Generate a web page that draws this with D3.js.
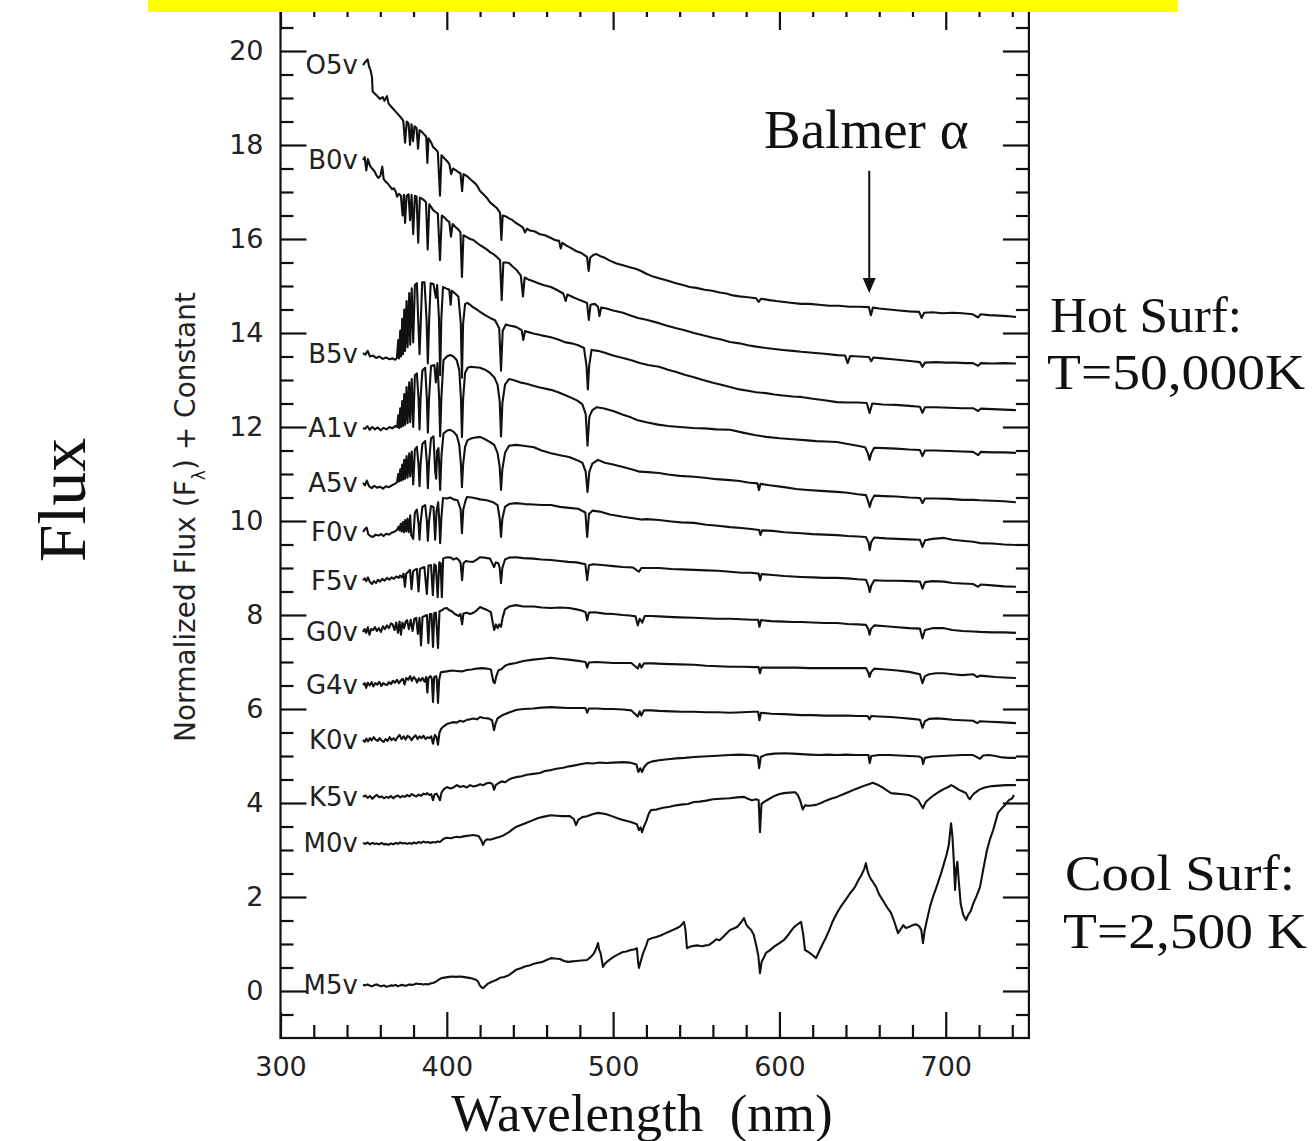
<!DOCTYPE html>
<html><head><meta charset="utf-8">
<script src="https://cdn.jsdelivr.net/npm/d3@7"></script>
<style>
html,body{margin:0;padding:0;background:#fff;}
svg{display:block;}
</style></head><body>
<svg id="chart" width="1315" height="1141"></svg>
<script>
// ---------------- DATA ----------------
const spectralTypes = ["O5v","B0v","B5v","A1v","A5v","F0v","F5v","G0v","G4v","K0v","K5v","M0v","M5v"];

const O5v = [[349.6,19.70],[350.8,19.76],[352.4,19.82],[353.2,19.68],[354.2,19.58],[355.0,19.45],[355.4,19.14],[356.5,19.10],[358.0,19.05],[359.8,18.98],[361.5,19.02],[362.5,18.94],[364.0,19.04],[365.0,18.88],[366.5,18.82],[368.0,18.76],[369.5,18.70],[371.0,18.64],[372.5,18.58],[373.8,18.52],[374.9,18.05],[375.9,18.50],[377.0,18.46],[377.9,18.0],[378.8,18.44],[379.7,18.08],[380.6,18.40],[381.8,18.36],[382.7,17.92],[383.6,18.32],[385.0,18.28],[386.5,18.22],[387.6,18.18],[388.3,17.62],[389.0,18.14],[390.5,18.06],[391.7,17.96],[393.5,17.90],[394.6,17.85],[395.9,16.92],[396.8,17.78],[398.5,17.72],[400.1,17.66],[401.5,17.60],[402.6,17.38],[403.7,17.50],[405.5,17.46],[407.0,17.42],[408.2,17.40],[409.2,17.02],[410.0,17.38],[412.0,17.34],[414.5,17.26],[416.5,17.20],[418.2,17.14],[420.0,17.02],[422.0,16.95],[424.0,16.88],[426.0,16.78],[428.0,16.72],[430.0,16.66],[432.0,16.56],[432.8,15.98],[433.6,16.50],[435.5,16.48],[437.4,16.44],[439.5,16.40],[441.6,16.34],[443.5,16.30],[445.8,16.24],[447.0,16.14],[448.2,16.22],[450.0,16.18],[453.0,16.16],[456.0,16.10],[459.0,16.08],[462.6,16.02],[465.0,15.98],[467.5,15.96],[468.5,15.80],[469.5,15.92],[472.0,15.86],[475.0,15.80],[478.0,15.74],[481.0,15.70],[484.3,15.62],[485.3,15.32],[486.2,15.60],[488.0,15.66],[490.0,15.68],[492.0,15.64],[495.0,15.60],[498.0,15.54],[502.0,15.48],[506.0,15.44],[510.0,15.40],[514.0,15.36],[516.8,15.32],[520.0,15.26],[524.0,15.20],[528.0,15.16],[532.0,15.12],[537.8,15.06],[542.0,15.02],[546.0,14.98],[550.0,14.96],[555.0,14.92],[559.5,14.90],[564.0,14.86],[568.0,14.84],[572.0,14.80],[576.0,14.78],[581.0,14.76],[586.0,14.74],[587.5,14.66],[589.0,14.73],[594.0,14.70],[598.0,14.68],[602.8,14.66],[608.0,14.64],[613.0,14.62],[618.0,14.62],[623.8,14.60],[630.0,14.58],[636.0,14.58],[642.0,14.56],[648.0,14.56],[653.8,14.55],[655.0,14.38],[656.2,14.54],[660.0,14.52],[666.0,14.50],[672.0,14.48],[678.0,14.46],[684.0,14.45],[685.5,14.32],[687.0,14.43],[692.0,14.44],[698.0,14.42],[704.0,14.43],[710.0,14.42],[716.0,14.40],[719.5,14.33],[721.0,14.40],[726.0,14.38],[732.0,14.37],[737.0,14.36],[742.2,14.34]];

const B0v = [[349.6,17.68],[350.6,17.74],[351.6,17.46],[352.5,17.70],[353.8,17.56],[355.0,17.50],[356.5,17.44],[357.6,17.36],[358.8,17.30],[360.0,17.34],[361.2,17.54],[362.0,17.28],[363.2,17.22],[364.5,17.18],[365.8,17.12],[367.0,17.06],[368.2,17.08],[369.4,17.00],[370.1,16.90],[371.2,16.96],[372.4,16.92],[373.4,16.50],[374.2,16.94],[374.9,16.34],[375.8,16.92],[377.0,16.95],[377.9,16.40],[378.8,16.94],[379.8,16.10],[380.8,16.92],[381.8,16.90],[382.8,15.92],[383.8,16.88],[385.0,16.86],[386.5,16.82],[387.5,16.78],[388.5,15.78],[389.5,16.74],[390.6,16.68],[391.7,16.62],[393.0,16.58],[394.6,16.54],[395.9,15.55],[397.0,16.50],[398.5,16.46],[400.1,16.40],[401.5,16.36],[402.5,16.05],[403.5,16.32],[405.0,16.26],[407.0,16.20],[408.2,16.14],[409.1,15.19],[410.0,16.08],[412.1,16.04],[414.0,16.00],[416.0,15.98],[418.0,15.92],[420.0,15.87],[421.8,15.83],[424.0,15.78],[426.0,15.72],[428.0,15.68],[430.0,15.62],[432.0,15.55],[433.0,14.70],[434.0,15.50],[435.5,15.50],[437.4,15.49],[440.0,15.40],[442.0,15.34],[444.5,15.22],[445.8,14.78],[446.8,15.18],[449.0,15.14],[452.0,15.10],[455.0,15.06],[458.0,15.02],[462.6,14.98],[466.0,14.92],[470.0,14.84],[471.5,14.68],[472.5,14.82],[476.0,14.76],[480.0,14.70],[484.3,14.64],[485.4,14.28],[486.4,14.60],[489.0,14.62],[490.9,14.56],[491.8,14.36],[492.8,14.54],[496.0,14.52],[500.0,14.48],[505.9,14.43],[510.0,14.38],[515.0,14.32],[520.0,14.28],[527.6,14.21],[532.0,14.16],[538.0,14.10],[543.0,14.06],[548.6,14.00],[554.0,13.95],[560.0,13.90],[565.0,13.86],[570.3,13.81],[576.0,13.78],[581.0,13.74],[586.0,13.71],[591.9,13.68],[597.0,13.66],[602.0,13.64],[608.0,13.62],[613.0,13.60],[620.0,13.58],[627.0,13.56],[634.6,13.53],[639.5,13.52],[641.0,13.36],[642.5,13.51],[648.0,13.50],[653.8,13.49],[655.2,13.40],[656.5,13.48],[662.0,13.46],[668.0,13.44],[674.0,13.42],[680.0,13.40],[684.5,13.38],[686.0,13.28],[687.5,13.37],[694.0,13.38],[700.0,13.37],[706.0,13.37],[712.0,13.36],[716.4,13.36],[719.5,13.30],[721.0,13.36],[728.0,13.35],[735.0,13.36],[742.2,13.35]];

const B5v = [[349.6,13.57],[351.0,13.54],[352.4,13.62],[353.8,13.50],[355.6,13.52],[357.5,13.47],[359.5,13.50],[361.5,13.45],[363.5,13.48],[365.5,13.44],[367.5,13.46],[369.0,13.43],[370.0,13.47],[370.8,13.85],[371.3,13.46],[372.0,14.05],[372.5,13.50],[373.2,14.30],[373.7,13.55],[374.4,14.50],[374.9,13.62],[375.8,14.68],[376.4,13.70],[377.4,14.85],[378.0,13.75],[378.9,14.95],[379.8,13.80],[380.8,15.02],[382.0,15.06],[382.9,14.20],[383.6,13.55],[384.3,14.20],[385.2,15.08],[386.6,15.08],[387.8,14.30],[388.6,13.35],[389.4,14.30],[390.3,15.06],[392.0,15.04],[393.4,14.75],[394.2,15.02],[395.3,14.30],[396.0,13.10],[396.7,14.30],[397.7,14.98],[399.5,14.95],[401.5,14.92],[402.3,14.60],[403.0,14.90],[405.0,14.84],[407.0,14.77],[408.4,14.20],[409.1,13.05],[409.8,14.20],[411.0,14.62],[412.5,14.64],[414.0,14.60],[415.7,14.55],[418.0,14.50],[420.0,14.45],[423.0,14.38],[426.0,14.32],[429.0,14.27],[431.5,14.10],[432.6,13.20],[433.6,14.05],[435.5,14.18],[437.5,14.16],[441.6,14.13],[445.0,14.06],[446.0,13.85],[447.0,14.04],[452.0,13.99],[457.0,13.95],[462.6,13.91],[467.0,13.86],[471.5,13.80],[475.0,13.78],[479.0,13.74],[482.5,13.68],[484.0,13.30],[484.8,12.80],[485.6,13.30],[487.0,13.64],[490.9,13.62],[495.0,13.58],[500.0,13.52],[505.9,13.47],[511.0,13.42],[516.0,13.36],[521.0,13.32],[527.6,13.28],[533.0,13.22],[538.0,13.17],[543.0,13.11],[548.6,13.06],[554.0,13.00],[560.0,12.94],[565.0,12.90],[570.3,12.85],[576.0,12.80],[581.0,12.77],[586.0,12.74],[591.9,12.72],[597.0,12.69],[602.0,12.67],[608.0,12.65],[613.0,12.64],[620.0,12.60],[627.0,12.57],[634.6,12.53],[641.0,12.52],[647.0,12.52],[652.5,12.51],[654.2,12.30],[655.8,12.50],[662.0,12.48],[670.0,12.47],[678.0,12.45],[684.5,12.43],[686.0,12.30],[687.5,12.42],[694.0,12.42],[702.0,12.41],[710.0,12.40],[716.4,12.40],[719.5,12.34],[721.0,12.39],[728.0,12.38],[735.0,12.37],[742.2,12.36]];

const A1v = [[349.6,11.98],[350.8,11.96],[352.2,12.02],[353.6,11.94],[355.2,12.00],[356.8,11.95],[358.5,11.99],[360.2,11.93],[362.0,11.98],[363.8,11.95],[365.5,12.00],[367.2,11.97],[369.0,12.02],[370.2,12.00],[370.8,12.25],[371.3,11.98],[372.0,12.40],[372.5,12.00],[373.2,12.55],[373.7,12.02],[374.4,12.70],[374.9,12.05],[375.8,12.85],[376.4,12.08],[377.4,12.95],[378.0,12.10],[378.9,13.02],[379.8,12.00],[380.8,13.10],[382.0,13.14],[383.0,12.60],[383.6,11.95],[384.2,12.60],[385.3,13.20],[387.0,13.26],[388.0,12.60],[388.6,11.88],[389.3,12.60],[390.5,13.30],[392.5,13.32],[393.4,12.95],[394.4,13.36],[395.4,12.60],[396.0,11.80],[396.7,12.60],[398.0,13.42],[400.0,13.50],[402.0,13.53],[404.0,13.50],[406.0,13.42],[407.5,13.20],[408.5,12.60],[409.1,11.79],[409.8,12.60],[411.0,13.15],[412.5,13.26],[414.5,13.28],[417.0,13.27],[420.0,13.26],[423.0,13.22],[426.0,13.15],[428.5,13.06],[430.5,12.90],[431.8,12.55],[432.6,11.80],[433.4,12.50],[435.0,12.90],[437.4,13.02],[440.0,13.00],[444.0,12.95],[448.0,12.92],[452.0,12.88],[456.0,12.84],[462.6,12.79],[467.0,12.74],[471.0,12.68],[475.0,12.62],[478.5,12.56],[481.5,12.48],[483.5,12.28],[484.6,11.60],[485.7,12.22],[487.5,12.36],[490.0,12.42],[494.0,12.40],[500.0,12.34],[506.0,12.26],[511.0,12.20],[514.3,12.15],[520.0,12.10],[527.0,12.05],[533.0,12.02],[540.0,12.00],[548.0,11.98],[555.0,11.97],[562.0,11.95],[570.3,11.94],[578.0,11.88],[585.0,11.83],[592.0,11.79],[600.0,11.76],[608.0,11.74],[615.0,11.72],[622.0,11.70],[628.0,11.69],[634.6,11.68],[641.0,11.64],[647.0,11.60],[651.5,11.57],[653.2,11.44],[654.2,11.30],[655.2,11.44],[657.0,11.56],[663.0,11.55],[670.0,11.54],[678.0,11.52],[684.5,11.51],[686.0,11.38],[687.5,11.50],[694.0,11.50],[702.0,11.49],[710.0,11.48],[716.4,11.47],[719.5,11.40],[721.0,11.47],[728.0,11.46],[735.0,11.46],[742.2,11.45]];

const A5v = [[349.6,10.81],[350.8,10.76],[351.9,10.86],[353.2,10.74],[354.8,10.70],[356.4,10.75],[358.0,10.71],[359.8,10.73],[361.6,10.69],[363.4,10.74],[365.2,10.72],[367.0,10.76],[368.8,10.79],[370.1,10.83],[370.8,11.00],[371.3,10.84],[372.0,11.10],[372.5,10.86],[373.2,11.20],[373.7,10.88],[374.4,11.30],[374.9,10.90],[375.8,11.38],[376.4,10.92],[377.4,11.44],[378.0,10.95],[378.9,11.48],[379.8,10.78],[380.8,11.52],[382.0,11.58],[383.0,11.20],[383.6,10.74],[384.2,11.20],[385.3,11.64],[387.0,11.70],[388.0,11.25],[388.6,10.70],[389.3,11.25],[390.5,11.76],[392.0,11.80],[393.0,11.05],[393.6,10.90],[394.2,11.50],[395.0,11.55],[396.0,10.66],[396.8,11.40],[398.0,11.86],[400.0,11.92],[402.0,11.94],[404.0,11.90],[406.0,11.82],[407.5,11.62],[408.5,11.20],[409.1,10.72],[409.8,11.20],[411.0,11.58],[412.5,11.72],[415.0,11.76],[418.0,11.78],[420.0,11.79],[423.0,11.74],[426.0,11.68],[428.5,11.62],[430.5,11.45],[431.8,11.15],[432.6,10.66],[433.4,11.10],[435.0,11.45],[437.4,11.60],[441.6,11.62],[446.0,11.60],[452.4,11.57],[457.0,11.50],[462.6,11.44],[468.0,11.40],[473.5,11.36],[478.0,11.30],[481.5,11.24],[483.5,11.05],[484.6,10.62],[485.7,11.05],[487.5,11.22],[490.9,11.30],[495.0,11.24],[500.0,11.20],[505.9,11.15],[511.0,11.10],[516.0,11.05],[521.0,11.04],[527.6,11.02],[533.0,10.99],[540.0,10.96],[548.6,10.94],[555.0,10.92],[562.0,10.89],[570.3,10.87],[576.0,10.85],[581.0,10.82],[586.8,10.80],[587.7,10.66],[588.6,10.79],[594.0,10.76],[602.8,10.72],[610.0,10.68],[617.0,10.66],[625.0,10.64],[634.6,10.62],[641.0,10.60],[647.0,10.57],[652.0,10.55],[653.5,10.40],[654.3,10.30],[655.2,10.42],[657.0,10.54],[663.0,10.53],[670.0,10.52],[678.0,10.50],[684.5,10.49],[686.0,10.38],[687.5,10.48],[694.0,10.48],[702.0,10.47],[710.0,10.45],[716.4,10.45],[720.6,10.44],[728.0,10.43],[735.0,10.42],[742.2,10.40]];

const F0v = [[349.6,9.77],[350.6,9.82],[351.8,9.86],[352.8,9.72],[354.0,9.68],[355.6,9.66],[357.2,9.71],[358.8,9.69],[360.4,9.72],[362.0,9.68],[363.6,9.73],[365.2,9.71],[366.8,9.75],[368.4,9.77],[370.1,9.81],[371.0,9.88],[371.6,9.80],[372.3,9.94],[372.8,9.78],[373.6,9.98],[374.2,9.76],[375.0,10.02],[375.6,9.78],[376.4,10.05],[377.1,9.76],[378.0,10.12],[378.6,9.70],[379.8,9.62],[380.8,10.18],[382.0,10.24],[383.0,9.95],[383.6,9.60],[384.2,9.95],[385.3,10.30],[387.0,10.34],[388.0,10.00],[388.6,9.58],[389.3,10.00],[390.5,10.32],[392.0,10.30],[393.0,9.60],[393.8,10.20],[394.8,10.40],[395.4,10.05],[396.0,9.53],[396.7,10.05],[397.7,10.49],[400.0,10.48],[402.0,10.50],[404.0,10.46],[406.5,10.44],[408.3,10.25],[409.1,9.74],[409.9,10.25],[411.5,10.46],[412.1,10.51],[415.0,10.50],[418.0,10.48],[420.0,10.46],[424.0,10.44],[427.8,10.40],[430.5,10.34],[431.8,10.05],[432.6,9.66],[433.4,10.05],[435.0,10.30],[437.4,10.36],[441.6,10.38],[447.0,10.36],[452.0,10.35],[457.0,10.34],[462.6,10.34],[468.0,10.30],[473.5,10.28],[479.0,10.26],[483.3,10.18],[484.4,9.66],[485.5,10.15],[487.5,10.22],[492.0,10.20],[498.0,10.14],[505.9,10.09],[512.0,10.06],[516.8,10.03],[520.0,10.04],[527.6,10.02],[535.0,9.99],[541.0,9.97],[548.6,9.96],[556.0,9.92],[563.0,9.90],[570.3,9.87],[577.0,9.85],[583.0,9.83],[587.8,9.81],[588.6,9.70],[589.5,9.80],[596.0,9.79],[602.8,9.76],[608.0,9.75],[613.0,9.74],[620.0,9.72],[627.0,9.71],[634.6,9.70],[641.0,9.68],[647.0,9.67],[652.0,9.66],[653.5,9.55],[654.3,9.38],[655.2,9.55],[657.0,9.65],[664.0,9.63],[671.0,9.62],[678.0,9.61],[684.5,9.60],[686.0,9.45],[687.5,9.59],[692.0,9.62],[699.0,9.64],[704.0,9.60],[710.0,9.58],[716.4,9.56],[720.6,9.53],[728.0,9.52],[735.0,9.50],[742.2,9.49]];

const F5v = [[349.6,8.74],[350.6,8.78],[351.6,8.72],[352.6,8.80],[353.8,8.70],[355.0,8.66],[356.2,8.72],[357.4,8.68],[358.6,8.75],[359.8,8.71],[361.2,8.77],[362.6,8.73],[364.0,8.79],[365.4,8.75],[366.8,8.80],[368.2,8.77],[369.6,8.82],[371.0,8.79],[371.9,8.84],[373.0,8.80],[374.0,8.88],[374.8,8.60],[375.6,8.88],[376.8,8.92],[377.9,8.96],[378.8,8.55],[379.7,8.92],[380.6,8.96],[382.0,8.98],[383.0,8.50],[383.9,8.98],[385.0,9.00],[386.5,9.02],[388.0,8.45],[389.0,9.05],[390.5,9.06],[391.6,8.42],[392.5,9.08],[393.4,9.05],[394.5,8.38],[395.5,9.12],[396.3,9.10],[397.0,8.38],[397.8,9.20],[399.0,9.22],[400.5,9.23],[402.5,9.22],[404.0,9.18],[405.8,9.21],[407.5,9.16],[408.3,9.10],[409.2,8.74],[410.0,9.10],[411.5,9.15],[413.0,9.14],[415.7,9.13],[418.0,9.18],[420.0,9.23],[423.0,9.22],[426.0,9.20],[428.4,9.02],[429.5,9.12],[431.0,9.10],[431.8,9.00],[432.6,8.68],[433.4,9.00],[435.0,9.18],[437.4,9.22],[441.6,9.23],[446.0,9.21],[452.0,9.20],[457.0,9.18],[462.6,9.17],[468.0,9.15],[473.0,9.13],[478.0,9.12],[483.3,9.08],[484.4,8.74],[485.5,9.06],[488.0,9.08],[495.0,9.06],[500.0,9.04],[505.9,9.02],[512.0,9.01],[515.5,8.92],[517.0,9.00],[522.0,9.00],[527.6,9.00],[535.0,8.98],[541.0,8.97],[548.6,8.96],[556.0,8.95],[563.0,8.94],[570.3,8.92],[577.0,8.90],[583.0,8.90],[587.5,8.88],[588.4,8.74],[589.3,8.87],[596.0,8.85],[602.8,8.83],[608.0,8.82],[613.0,8.81],[620.0,8.80],[627.0,8.79],[634.6,8.79],[641.0,8.78],[647.0,8.76],[652.0,8.75],[653.5,8.62],[654.3,8.49],[655.2,8.62],[657.0,8.74],[664.0,8.73],[671.0,8.73],[678.0,8.72],[684.5,8.71],[686.0,8.56],[687.5,8.70],[692.0,8.72],[699.0,8.71],[704.0,8.68],[710.0,8.67],[716.4,8.66],[719.5,8.60],[721.0,8.65],[728.0,8.63],[735.0,8.61],[742.2,8.60]];

const G0v = [[349.6,7.64],[350.6,7.70],[351.5,7.62],[352.5,7.74],[353.5,7.58],[354.5,7.70],[355.6,7.68],[356.8,7.74],[358.0,7.66],[359.2,7.72],[360.4,7.64],[361.6,7.76],[362.8,7.70],[364.0,7.78],[365.2,7.72],[366.4,7.82],[367.4,7.80],[368.6,7.68],[369.6,7.84],[370.6,7.62],[371.6,7.86],[372.4,7.58],[373.3,7.84],[374.3,7.72],[375.3,7.86],[376.1,7.89],[377.2,7.70],[378.3,7.90],[379.4,7.66],[380.5,7.92],[381.6,7.94],[382.6,7.60],[383.6,7.94],[384.5,7.35],[385.4,7.96],[386.8,7.98],[388.0,8.00],[388.9,7.40],[389.8,8.02],[390.8,8.02],[391.7,7.32],[392.5,8.04],[393.4,8.05],[394.7,7.30],[395.6,8.08],[397.0,8.10],[398.5,8.14],[400.0,8.15],[401.5,8.10],[403.0,8.08],[404.5,8.03],[406.0,8.00],[407.2,7.98],[408.2,8.02],[409.2,7.80],[410.0,8.03],[412.0,8.05],[414.0,8.02],[415.7,8.04],[418.0,8.10],[420.0,8.17],[422.0,8.14],[424.5,8.10],[426.5,8.06],[427.8,7.80],[428.5,7.68],[429.5,7.80],[430.6,7.72],[431.5,7.80],[432.6,7.75],[433.6,7.95],[435.0,8.12],[437.5,8.18],[441.6,8.21],[446.0,8.18],[452.4,8.18],[457.0,8.16],[462.6,8.15],[468.0,8.16],[473.5,8.15],[478.0,8.12],[481.5,8.09],[483.4,8.06],[484.4,7.89],[485.4,8.05],[489.0,8.06],[495.0,8.03],[500.0,8.02],[505.9,8.00],[510.0,7.99],[513.5,7.97],[514.8,7.78],[516.0,7.92],[517.5,7.84],[519.0,7.98],[523.0,7.98],[527.6,7.97],[533.0,7.96],[540.0,7.95],[548.6,7.94],[555.0,7.93],[562.0,7.92],[570.3,7.92],[577.0,7.91],[583.0,7.90],[587.2,7.90],[588.0,7.75],[588.9,7.89],[595.0,7.87],[602.8,7.86],[608.0,7.85],[613.0,7.85],[620.0,7.84],[627.0,7.83],[634.6,7.83],[641.0,7.81],[647.0,7.80],[652.0,7.79],[653.4,7.70],[654.2,7.58],[655.0,7.70],[657.0,7.78],[664.0,7.76],[671.0,7.74],[678.0,7.72],[684.5,7.71],[686.0,7.50],[687.5,7.68],[692.0,7.72],[699.0,7.72],[704.0,7.68],[710.0,7.66],[716.4,7.65],[720.6,7.64],[728.0,7.63],[735.0,7.63],[742.2,7.62]];

const G4v = [[349.6,6.51],[350.6,6.55],[351.5,6.45],[352.5,6.56],[353.6,6.50],[354.8,6.57],[355.8,6.48],[357.0,6.55],[358.2,6.52],[359.4,6.58],[360.6,6.49],[361.8,6.55],[363.0,6.52],[364.0,6.51],[365.2,6.57],[366.4,6.53],[367.6,6.60],[368.8,6.56],[370.0,6.62],[371.2,6.55],[372.4,6.61],[373.6,6.64],[374.6,6.52],[375.6,6.66],[376.8,6.62],[377.9,6.70],[379.0,6.60],[380.1,6.68],[381.2,6.64],[382.1,6.56],[383.2,6.65],[384.2,6.60],[385.4,6.66],[386.6,6.58],[387.6,6.68],[388.3,6.35],[389.0,6.66],[390.2,6.70],[391.0,6.64],[391.7,6.15],[392.4,6.68],[393.6,6.70],[394.0,6.62],[394.7,6.13],[395.4,6.62],[396.4,6.78],[397.7,6.79],[400.0,6.80],[403.0,6.82],[406.0,6.81],[409.0,6.80],[412.0,6.83],[415.0,6.84],[418.0,6.86],[421.0,6.87],[424.0,6.86],[426.5,6.84],[428.0,6.58],[428.8,6.55],[429.8,6.70],[431.0,6.82],[433.0,6.85],[435.0,6.92],[437.0,6.95],[441.6,6.98],[446.0,7.02],[452.0,7.05],[457.0,7.07],[462.6,7.09],[468.0,7.07],[473.0,7.05],[478.0,7.03],[483.4,7.00],[484.4,6.88],[485.4,6.99],[490.0,7.00],[495.0,6.99],[500.0,6.98],[505.9,6.98],[511.0,6.98],[514.8,6.86],[516.0,6.96],[517.0,6.88],[518.5,6.97],[523.0,6.97],[530.0,6.96],[540.0,6.95],[548.6,6.94],[556.0,6.92],[563.0,6.91],[570.3,6.90],[578.0,6.90],[585.0,6.89],[587.5,6.89],[588.3,6.76],[589.2,6.88],[595.0,6.88],[602.8,6.88],[610.0,6.88],[618.0,6.87],[626.0,6.87],[634.6,6.87],[641.0,6.87],[647.0,6.87],[652.0,6.87],[653.4,6.78],[654.2,6.68],[655.0,6.78],[657.0,6.86],[664.0,6.84],[671.0,6.82],[678.0,6.79],[684.5,6.74],[686.0,6.55],[687.5,6.70],[690.0,6.74],[694.0,6.76],[699.0,6.76],[704.0,6.74],[710.0,6.72],[716.4,6.74],[719.0,6.68],[720.6,6.71],[724.0,6.70],[730.0,6.68],[735.0,6.67],[742.2,6.66]];

const K0v = [[349.6,5.34],[350.6,5.30],[351.6,5.37],[352.6,5.31],[353.8,5.38],[354.8,5.33],[356.0,5.40],[357.2,5.35],[358.4,5.32],[359.6,5.38],[360.8,5.33],[362.0,5.30],[363.2,5.36],[364.4,5.32],[365.6,5.40],[366.8,5.34],[368.0,5.38],[369.2,5.33],[370.4,5.40],[371.6,5.45],[372.8,5.36],[374.0,5.42],[375.2,5.35],[376.4,5.43],[377.6,5.40],[378.8,5.34],[380.0,5.40],[381.2,5.44],[382.4,5.36],[383.6,5.42],[384.8,5.38],[386.0,5.43],[387.2,5.36],[388.4,5.40],[389.6,5.38],[390.6,5.42],[391.7,5.26],[392.8,5.45],[393.8,5.40],[394.7,5.24],[395.6,5.50],[396.6,5.58],[397.7,5.62],[400.0,5.68],[402.0,5.70],[403.7,5.72],[406.0,5.71],[408.0,5.75],[410.0,5.73],[412.1,5.77],[414.0,5.78],[416.0,5.80],[418.2,5.78],[420.0,5.83],[422.0,5.81],[425.0,5.80],[427.2,5.76],[428.4,5.55],[429.4,5.70],[430.5,5.80],[433.0,5.86],[437.0,5.92],[441.6,5.98],[446.0,6.00],[452.0,6.01],[457.0,6.03],[462.6,6.04],[468.0,6.03],[473.0,6.02],[478.0,6.02],[483.4,6.02],[484.4,5.92],[485.4,6.01],[490.0,6.01],[495.0,6.00],[500.0,6.00],[505.9,5.99],[511.0,5.97],[514.8,5.84],[516.0,5.95],[517.0,5.86],[518.5,5.97],[523.0,5.97],[527.6,5.96],[535.0,5.95],[541.0,5.94],[548.6,5.94],[556.0,5.93],[563.0,5.93],[570.3,5.92],[578.0,5.93],[584.0,5.94],[587.2,5.94],[588.0,5.76],[588.9,5.92],[595.0,5.90],[602.8,5.89],[608.0,5.88],[613.0,5.87],[620.0,5.87],[627.0,5.86],[634.6,5.86],[641.0,5.86],[647.0,5.85],[653.0,5.85],[654.2,5.78],[655.2,5.85],[660.0,5.84],[667.0,5.83],[674.0,5.81],[680.0,5.79],[684.5,5.77],[686.0,5.60],[687.5,5.74],[690.0,5.79],[694.8,5.80],[699.0,5.79],[704.0,5.77],[710.0,5.76],[716.4,5.75],[719.0,5.70],[720.6,5.74],[726.0,5.73],[732.0,5.72],[737.0,5.71],[742.2,5.70]];

const K5v = [[349.6,4.13],[351.0,4.16],[352.4,4.11],[353.8,4.15],[355.2,4.09],[356.6,4.14],[358.0,4.17],[359.4,4.12],[360.8,4.14],[362.2,4.10],[363.6,4.13],[365.0,4.11],[366.4,4.15],[367.8,4.10],[369.2,4.14],[370.6,4.16],[372.0,4.12],[373.4,4.15],[374.8,4.13],[376.1,4.17],[377.5,4.14],[378.9,4.19],[380.3,4.16],[381.7,4.14],[383.1,4.18],[384.5,4.15],[385.9,4.20],[387.3,4.18],[388.1,4.21],[389.5,4.17],[390.6,4.19],[391.7,4.06],[392.6,4.18],[393.8,4.20],[394.8,4.14],[395.9,4.06],[396.8,4.22],[398.4,4.30],[400.1,4.34],[402.0,4.31],[404.0,4.33],[406.1,4.38],[408.0,4.34],[410.0,4.36],[412.0,4.33],[414.0,4.38],[416.0,4.35],[418.2,4.37],[420.0,4.40],[422.0,4.38],[424.0,4.42],[426.0,4.43],[427.5,4.40],[428.4,4.28],[429.4,4.38],[431.0,4.42],[433.0,4.46],[435.0,4.44],[437.4,4.50],[439.5,4.53],[441.6,4.55],[445.0,4.57],[448.0,4.60],[452.0,4.62],[456.0,4.64],[459.0,4.68],[462.6,4.70],[466.0,4.73],[470.0,4.75],[473.5,4.78],[477.0,4.80],[481.0,4.83],[484.3,4.85],[488.0,4.84],[492.0,4.86],[496.0,4.85],[500.0,4.86],[505.9,4.87],[510.0,4.86],[514.0,4.82],[515.2,4.66],[516.3,4.74],[517.4,4.66],[518.6,4.76],[520.5,4.84],[523.0,4.88],[527.6,4.91],[533.0,4.93],[538.0,4.95],[543.0,4.96],[548.6,4.98],[554.0,4.99],[560.0,5.00],[565.0,5.01],[570.3,5.02],[576.0,5.03],[581.0,5.02],[585.0,5.01],[587.0,4.99],[587.8,4.74],[588.8,4.98],[592.0,5.03],[597.0,5.05],[602.8,5.06],[608.0,5.05],[613.0,5.04],[618.0,5.03],[624.0,5.02],[629.0,5.03],[634.6,5.02],[640.0,5.03],[646.0,5.02],[651.0,5.02],[653.5,5.02],[654.3,4.85],[655.2,5.00],[660.0,5.02],[666.0,5.02],[672.0,5.01],[678.0,5.00],[684.0,4.99],[685.6,4.96],[686.4,4.83],[687.4,4.96],[692.0,4.99],[698.0,5.00],[704.0,5.01],[710.0,5.02],[716.4,5.02],[719.0,4.97],[720.6,4.94],[722.5,5.01],[726.0,5.02],[730.0,5.00],[734.0,4.97],[738.0,4.96],[742.2,4.96]];

const M0v = [[349.6,3.15],[351.0,3.13],[352.4,3.16],[353.8,3.12],[355.2,3.15],[356.6,3.13],[358.0,3.14],[359.4,3.12],[360.8,3.15],[362.2,3.12],[363.6,3.13],[365.0,3.11],[366.4,3.14],[367.8,3.12],[369.2,3.15],[370.6,3.13],[372.0,3.16],[373.4,3.14],[374.8,3.15],[376.1,3.13],[377.5,3.15],[378.9,3.13],[380.3,3.16],[381.7,3.14],[383.1,3.17],[384.5,3.15],[385.9,3.18],[387.3,3.16],[388.7,3.17],[390.1,3.15],[391.5,3.17],[393.0,3.16],[394.4,3.18],[395.9,3.17],[397.4,3.22],[398.8,3.25],[400.1,3.26],[402.5,3.25],[404.5,3.27],[406.1,3.28],[408.0,3.27],[410.0,3.29],[412.1,3.30],[414.0,3.31],[415.7,3.32],[417.5,3.31],[419.3,3.29],[420.8,3.20],[421.8,3.11],[423.0,3.20],[424.5,3.23],[426.0,3.22],[428.0,3.24],[430.0,3.26],[432.0,3.28],[434.5,3.32],[437.4,3.38],[439.5,3.44],[441.6,3.49],[444.5,3.53],[448.0,3.58],[451.5,3.63],[455.0,3.68],[458.5,3.71],[462.6,3.74],[466.0,3.73],[470.0,3.72],[474.0,3.72],[476.3,3.66],[477.7,3.53],[479.0,3.64],[481.5,3.70],[484.3,3.72],[487.5,3.76],[490.9,3.79],[493.0,3.78],[496.0,3.76],[500.0,3.71],[503.0,3.67],[505.9,3.64],[509.0,3.61],[512.0,3.58],[514.3,3.55],[515.5,3.42],[516.5,3.48],[517.4,3.38],[518.5,3.50],[520.0,3.62],[521.5,3.78],[522.8,3.85],[526.0,3.86],[530.0,3.90],[534.0,3.92],[537.8,3.95],[542.0,3.97],[545.0,3.98],[548.6,4.02],[552.0,4.03],[556.0,4.05],[560.0,4.08],[565.0,4.09],[570.0,4.10],[574.5,4.12],[578.7,4.13],[581.0,4.09],[583.5,4.06],[586.0,4.08],[587.5,4.06],[588.3,3.38],[589.2,3.98],[591.0,4.03],[593.5,4.08],[597.0,4.15],[600.0,4.19],[602.8,4.21],[606.0,4.22],[609.5,4.23],[611.2,4.16],[612.5,4.05],[614.0,3.86],[615.4,3.95],[618.0,3.94],[622.0,3.96],[625.0,4.00],[628.0,4.05],[631.0,4.09],[634.6,4.13],[638.0,4.18],[642.0,4.24],[646.0,4.30],[649.0,4.34],[652.0,4.38],[656.2,4.43],[659.0,4.39],[662.0,4.33],[665.0,4.26],[667.1,4.21],[670.0,4.20],[673.0,4.19],[677.9,4.17],[681.0,4.12],[683.5,4.06],[686.3,3.89],[688.0,4.02],[690.5,4.10],[693.0,4.17],[696.0,4.24],[699.0,4.30],[701.5,4.34],[703.2,4.38],[705.5,4.34],[708.0,4.28],[710.5,4.24],[712.2,4.21],[713.5,4.12],[714.5,4.08],[715.5,4.14],[717.0,4.20],[720.0,4.28],[722.5,4.32],[724.8,4.34],[728.0,4.36],[732.0,4.37],[736.0,4.38],[739.0,4.38],[742.2,4.38]];

const M5v = [[349.6,0.13],[351.0,0.12],[352.4,0.14],[353.8,0.11],[355.2,0.10],[356.6,0.13],[358.0,0.14],[359.4,0.11],[360.8,0.10],[362.2,0.12],[363.6,0.09],[365.0,0.10],[366.4,0.12],[367.8,0.11],[369.2,0.13],[370.6,0.10],[372.0,0.12],[373.4,0.13],[374.8,0.11],[376.1,0.12],[377.5,0.14],[378.9,0.13],[380.3,0.14],[381.7,0.16],[383.1,0.15],[384.5,0.15],[385.9,0.14],[387.3,0.15],[388.7,0.14],[390.1,0.16],[391.7,0.17],[393.5,0.20],[395.2,0.24],[396.5,0.27],[397.7,0.28],[399.5,0.29],[401.5,0.30],[403.5,0.31],[405.5,0.30],[407.5,0.31],[409.7,0.30],[411.5,0.29],[413.5,0.28],[415.7,0.26],[417.5,0.24],[418.8,0.20],[419.8,0.12],[420.8,0.08],[421.8,0.06],[423.0,0.10],[424.5,0.15],[426.0,0.18],[428.0,0.21],[430.0,0.24],[432.0,0.28],[434.5,0.30],[437.0,0.33],[439.0,0.38],[441.6,0.45],[444.0,0.48],[447.0,0.52],[450.0,0.55],[452.4,0.58],[455.0,0.60],[457.5,0.62],[460.0,0.66],[462.6,0.70],[465.0,0.69],[468.0,0.68],[470.5,0.64],[473.0,0.62],[475.5,0.63],[478.0,0.64],[481.0,0.65],[484.3,0.66],[486.5,0.72],[488.5,0.80],[490.0,0.92],[490.9,1.02],[491.6,0.88],[492.5,0.80],[493.9,0.51],[495.0,0.58],[497.0,0.64],[500.0,0.72],[503.0,0.78],[505.9,0.83],[508.0,0.84],[510.5,0.87],[513.0,0.89],[514.3,0.91],[515.0,0.62],[515.5,0.49],[516.5,0.62],[518.0,0.80],[520.0,0.98],[521.0,1.09],[523.0,1.12],[526.0,1.15],[528.5,1.18],[531.0,1.22],[533.5,1.26],[536.0,1.30],[538.5,1.34],[540.5,1.38],[542.6,1.47],[543.5,1.30],[544.4,0.91],[546.0,0.94],[548.6,0.96],[551.0,0.97],[553.5,0.95],[555.5,0.97],[557.7,0.98],[560.0,1.04],[562.0,1.10],[564.0,1.08],[566.1,1.15],[568.0,1.22],[570.3,1.30],[572.5,1.33],[574.5,1.36],[576.5,1.44],[578.7,1.55],[580.0,1.42],[581.5,1.35],[583.0,1.30],[584.5,1.20],[586.0,0.98],[587.3,0.75],[588.3,0.38],[589.3,0.62],[590.5,0.70],[591.9,0.81],[594.0,0.86],[597.0,0.95],[600.0,1.02],[602.8,1.09],[605.0,1.18],[607.0,1.28],[608.8,1.36],[611.0,1.42],[613.0,1.47],[614.3,1.20],[615.4,0.87],[617.0,0.84],[618.5,0.80],[620.0,0.76],[622.0,0.70],[624.0,0.85],[626.0,1.00],[628.0,1.14],[630.0,1.30],[632.0,1.48],[634.6,1.66],[637.0,1.80],[640.0,1.95],[642.5,2.08],[645.4,2.21],[647.5,2.36],[649.5,2.48],[651.0,2.60],[652.0,2.72],[653.0,2.55],[654.0,2.45],[655.0,2.38],[656.2,2.32],[658.0,2.22],[660.0,2.05],[662.0,1.94],[663.5,1.85],[665.5,1.74],[667.1,1.66],[669.0,1.48],[671.3,1.23],[673.0,1.32],[674.5,1.40],[676.0,1.34],[677.9,1.36],[680.0,1.40],[682.0,1.42],[684.0,1.38],[685.3,1.30],[686.3,1.02],[687.3,1.28],[688.5,1.48],[690.5,1.79],[692.5,2.02],[694.8,2.25],[697.0,2.48],[699.0,2.72],[700.5,2.90],[701.8,3.10],[703.2,3.57],[704.0,3.30],[704.8,2.80],[705.6,2.15],[706.3,2.60],[707.0,2.75],[707.8,2.35],[709.0,1.85],[710.5,1.62],[712.2,1.51],[713.5,1.62],[715.0,1.70],[716.4,1.85],[718.5,2.02],[720.6,2.21],[722.5,2.58],[724.8,3.00],[726.5,3.22],[728.5,3.42],[731.4,3.79],[733.5,3.88],[735.5,3.95],[738.0,4.06],[740.0,4.10],[741.0,4.17]];

const spectra = [O5v,B0v,B5v,A1v,A5v,F0v,F5v,G0v,G4v,K0v,K5v,M0v,M5v];

const xDomain = [300, 750];
const yDomain = [-1, 21];
const xMajorTicks = [300, 400, 500, 600, 700];
const xTickLabels = ["300", "400", "500", "600", "700"];
const yMajorTicks = [0, 2, 4, 6, 8, 10, 12, 14, 16, 18, 20];
const yTickLabels = ["0","2","4","6","8","10","12","14","16","18","20"];
const xMinorTicks = d3.range(300, 751, 20).filter(v => v % 100 !== 0);
const yMinorTicks = d3.range(-0.5, 21, 0.5).filter(v => v % 2 !== 0);

const balmerArrow = {lambda: 654, from: 17.45, to: 14.85};

// ---------------- CHART ----------------
const svg = d3.select("#chart");
const x = d3.scaleLinear().domain(xDomain).range([280.5, 1028.9]);
const y = d3.scaleLinear().domain(yDomain).range([1038, 4]);
const sans = "'DejaVu Sans', Arial, sans-serif";
const serif = "'Liberation Serif', 'Times New Roman', serif";

// spectra
const line = d3.line().x(d => x(d[0])).y(d => y(d[1]));
svg.append("g").selectAll("path").data(spectra).join("path")
  .attr("d", line).attr("fill", "none").attr("stroke", "#111")
  .attr("stroke-width", 2.1).attr("stroke-linejoin", "round");

// spectral labels
svg.append("g").selectAll("text").data(spectra).join("text")
  .attr("x", d => x(d[0][0]) - 5).attr("y", d => y(d[0][1]))
  .attr("dy", "0.36em").attr("text-anchor", "end")
  .style("font-family", sans).style("font-size", "26px").attr("fill", "#222")
  .text((d, i) => spectralTypes[i]);

function styleAxis(g) {
  g.select(".domain").remove();
  g.selectAll(".tick line").attr("stroke", "#111").attr("stroke-width", 2.2);
  g.selectAll("text").style("font-family", sans).style("font-size", "27px").attr("fill", "#222");
}
const X0 = x(xDomain[0]), X1 = x(xDomain[1]), Y0 = y(yDomain[0]), Y1 = y(yDomain[1]);

// left
svg.append("g").attr("transform", `translate(${X0},0)`)
  .call(d3.axisLeft(y).tickValues(yMajorTicks).tickSizeInner(-26).tickSizeOuter(0).tickPadding(17)
    .tickFormat((d, i) => yTickLabels[i])).call(styleAxis);
svg.append("g").attr("transform", `translate(${X0},0)`)
  .call(d3.axisLeft(y).tickValues(yMinorTicks).tickSizeInner(-13).tickSizeOuter(0).tickFormat("")).call(styleAxis);
// right
svg.append("g").attr("transform", `translate(${X1},0)`)
  .call(d3.axisRight(y).tickValues(yMajorTicks).tickSizeInner(-26).tickSizeOuter(0).tickFormat("")).call(styleAxis);
svg.append("g").attr("transform", `translate(${X1},0)`)
  .call(d3.axisRight(y).tickValues(yMinorTicks).tickSizeInner(-13).tickSizeOuter(0).tickFormat("")).call(styleAxis);
// bottom
svg.append("g").attr("transform", `translate(0,${Y0})`)
  .call(d3.axisBottom(x).tickValues(xMajorTicks).tickSizeInner(-26).tickSizeOuter(0).tickPadding(19)
    .tickFormat((d, i) => xTickLabels[i])).call(styleAxis);
svg.append("g").attr("transform", `translate(0,${Y0})`)
  .call(d3.axisBottom(x).tickValues(xMinorTicks).tickSizeInner(-13).tickSizeOuter(0).tickFormat("")).call(styleAxis);
// top
svg.append("g").attr("transform", `translate(0,${Y1})`)
  .call(d3.axisTop(x).tickValues(xMajorTicks).tickSizeInner(-26).tickSizeOuter(0).tickFormat("")).call(styleAxis);
svg.append("g").attr("transform", `translate(0,${Y1})`)
  .call(d3.axisTop(x).tickValues(xMinorTicks).tickSizeInner(-13).tickSizeOuter(0).tickFormat("")).call(styleAxis);

// frame
svg.append("rect").attr("x", X0).attr("y", Y1).attr("width", X1 - X0).attr("height", Y0 - Y1)
  .attr("fill", "none").attr("stroke", "#111").attr("stroke-width", 2.2);

// y axis title
const yt = svg.append("text").attr("transform", "translate(195,517) rotate(-90)")
  .attr("text-anchor", "middle").style("font-family", sans).style("font-size", "28px").attr("fill", "#222");
yt.append("tspan").text("Normalized Flux (F");
yt.append("tspan").attr("baseline-shift", "sub").style("font-size", "17px").text("λ");
yt.append("tspan").text(") + Constant");

// Balmer arrow
const ax = x(balmerArrow.lambda);
svg.append("line").attr("x1", ax).attr("x2", ax).attr("y1", y(balmerArrow.from)).attr("y2", y(balmerArrow.to) - 12)
  .attr("stroke", "#111").attr("stroke-width", 2);
svg.append("path").attr("d", `M${ax - 6.5},${y(balmerArrow.to) - 15} L${ax + 6.5},${y(balmerArrow.to) - 15} L${ax},${y(balmerArrow.to)} Z`)
  .attr("fill", "#111");

// slide texts
function slideText(t, xx, yy, size, opts) {
  opts = opts || {};
  const el = svg.append("text").style("font-family", serif).style("font-size", size + "px")
    .attr("fill", "#111").attr("text-anchor", opts.anchor || "start").text(t);
  if (opts.transform) el.attr("transform", opts.transform); else el.attr("x", xx).attr("y", yy);
  if (opts.len) el.attr("textLength", opts.len).attr("lengthAdjust", "spacingAndGlyphs");
  return el;
}
slideText("Balmer α", 764, 148, 55);
slideText("Hot Surf:", 1050, 332, 50, {len: 192});
slideText("T=50,000K", 1047, 389, 50, {len: 258});
slideText("Cool Surf:", 1065, 890, 50, {len: 230});
slideText("T=2,500 K", 1063, 948, 50, {len: 244});
slideText("Wavelength\u00a0\u00a0(nm)", 0, 0, 53, {anchor: "middle", transform: "translate(642,1131)"});
slideText("Flux", 0, 0, 68, {anchor: "middle", transform: "translate(85,500) rotate(-90)"});

// yellow banner at top
svg.append("rect").attr("x", 148).attr("y", 0).attr("width", 1030).attr("height", 12).attr("fill", "#ffff00");
</script>
</body></html>
